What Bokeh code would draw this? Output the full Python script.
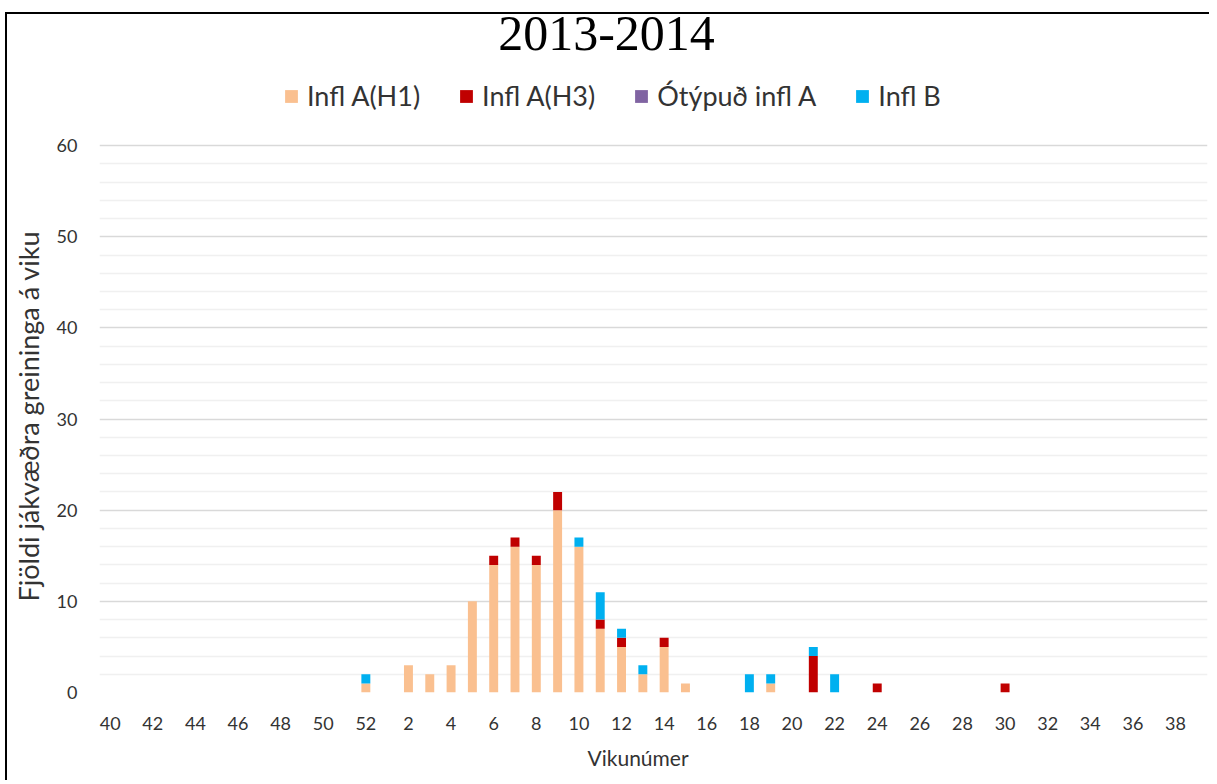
from bokeh.plotting import figure
from bokeh.models import (ColumnDataSource, Range1d, FixedTicker, Legend, LegendItem, Label, Title)
from bokeh.embed import file_html
from bokeh.resources import INLINE

# ---- data ----
title_text = "2013-2014"
weeks = [40, 41, 42, 43, 44, 45, 46, 47, 48, 49, 50, 51, 52,
         1, 2, 3, 4, 5, 6, 7, 8, 9, 10, 11, 12, 13, 14, 15, 16, 17, 18, 19, 20,
         21, 22, 23, 24, 25, 26, 27, 28, 29, 30, 31, 32, 33, 34, 35, 36, 37, 38, 39]
infl_h1 = [0, 0, 0, 0, 0, 0, 0, 0, 0, 0, 0, 0, 1,
           0, 3, 2, 3, 10, 14, 16, 14, 20, 16, 7, 5, 2, 5, 1, 0, 0, 0, 1, 0,
           0, 0, 0, 0, 0, 0, 0, 0, 0, 0, 0, 0, 0, 0, 0, 0, 0, 0, 0]
infl_h3 = [0, 0, 0, 0, 0, 0, 0, 0, 0, 0, 0, 0, 0,
           0, 0, 0, 0, 0, 1, 1, 1, 2, 0, 1, 1, 0, 1, 0, 0, 0, 0, 0, 0,
           4, 0, 0, 1, 0, 0, 0, 0, 0, 1, 0, 0, 0, 0, 0, 0, 0, 0, 0]
untyped_a = [0] * 52
infl_b = [0, 0, 0, 0, 0, 0, 0, 0, 0, 0, 0, 0, 1,
          0, 0, 0, 0, 0, 0, 0, 0, 0, 1, 3, 1, 1, 0, 0, 0, 0, 2, 1, 0,
          1, 2, 0, 0, 0, 0, 0, 0, 0, 0, 0, 0, 0, 0, 0, 0, 0, 0, 0]
series_names = ["Infl A(H1)", "Infl A(H3)", "Ótýpuð infl A", "Infl B"]
series_keys = ["h1", "h3", "unt", "b"]
colors = ["#FAC090", "#C00000", "#8064A2", "#00B0F0"]
y_major_ticks = [0, 10, 20, 30, 40, 50, 60]
y_minor_ticks = [2, 4, 6, 8, 12, 14, 16, 18, 22, 24, 26, 28, 32, 34, 36, 38,
                 42, 44, 46, 48, 52, 54, 56, 58]
x_label = "Vikunúmer"
y_label = "Fjöldi jákvæðra greininga á viku"

pos = list(range(len(weeks)))
src = ColumnDataSource(dict(x=pos, h1=infl_h1, h3=infl_h3, unt=untyped_a, b=infl_b))

FONT = "Lato"
TXT = "#333333"

# layout (pixels): frame spans from figure top; value axis 0..60 occupies lower part
FIG_W, FIG_H = 1209, 780
TOP_PAD = 146          # px above the 60-line reserved for title + legend
PLOT_H = 550           # px for 0..60
y_max = y_major_ticks[-1]
y_top = y_max + TOP_PAD * y_max / PLOT_H

p = figure(width=FIG_W, height=FIG_H, output_backend="svg", toolbar_location=None,
           x_range=Range1d(-0.5, len(weeks) - 0.5), y_range=Range1d(0, y_top),
           min_border_left=99, min_border_right=2, min_border_top=0, min_border_bottom=84)
p.styles = {"box-shadow": "inset 5px 0 0 0 #fff, inset 0 12px 0 0 #fff, "
                          "inset 7px 0 0 0 #000, inset 0 14px 0 0 #000"}
p.outline_line_color = None
p.background_fill_color = None
p.border_fill_color = None

rs = p.vbar_stack(series_keys, x="x", width=0.42, color=colors, line_color=None, source=src)

# axes
p.xaxis.ticker = FixedTicker(ticks=pos[::2])
p.xaxis.major_label_overrides = {i: str(weeks[i]) for i in pos}
p.yaxis.ticker = FixedTicker(ticks=y_major_ticks, minor_ticks=y_minor_ticks)
for ax in (p.xaxis[0], p.yaxis[0]):
    ax.axis_line_color = None
    ax.major_tick_line_color = None
    ax.minor_tick_line_color = None
    ax.major_label_text_font = FONT
    ax.major_label_text_font_size = "18px"
    ax.major_label_text_color = TXT
p.xaxis.major_label_standoff = 18
p.yaxis.major_label_standoff = 16

# axis titles as side titles (so they can be offset like the original)
p.add_layout(Title(text=y_label, align="left", offset=91, standoff=18,
                   text_font=FONT, text_font_size="27px", text_font_style="normal",
                   text_color=TXT), "left")
p.add_layout(Title(text=x_label, align="left", offset=488, standoff=21,
                   text_font=FONT, text_font_size="21px", text_font_style="normal",
                   text_color=TXT), "below")

p.xgrid.grid_line_color = None
p.ygrid.grid_line_color = "#D9D9D9"
p.ygrid.grid_line_width = 1.3
p.ygrid.minor_grid_line_color = "#F0F0F0"
p.ygrid.minor_grid_line_width = 1.3

# legend (inside the top reserved strip of the frame)
items = [LegendItem(label=n, renderers=[r]) for n, r in zip(series_names, rs)]
leg = Legend(items=items, orientation="horizontal", location=(184, 580),
             label_text_font=FONT, label_text_font_size="27px", label_text_color=TXT,
             glyph_width=16, glyph_height=16, spacing=38, label_standoff=8,
             padding=0, margin=0, border_line_color=None, background_fill_alpha=0)
p.add_layout(leg, "center")

# title
p.add_layout(Label(x=507, y=659, x_units="screen", y_units="screen", text=title_text,
                   text_font="Liberation Serif", text_font_size="50px", text_color="#000",
                   text_align="center", text_baseline="middle"))

open("out.html", "w").write(file_html(p, INLINE))
